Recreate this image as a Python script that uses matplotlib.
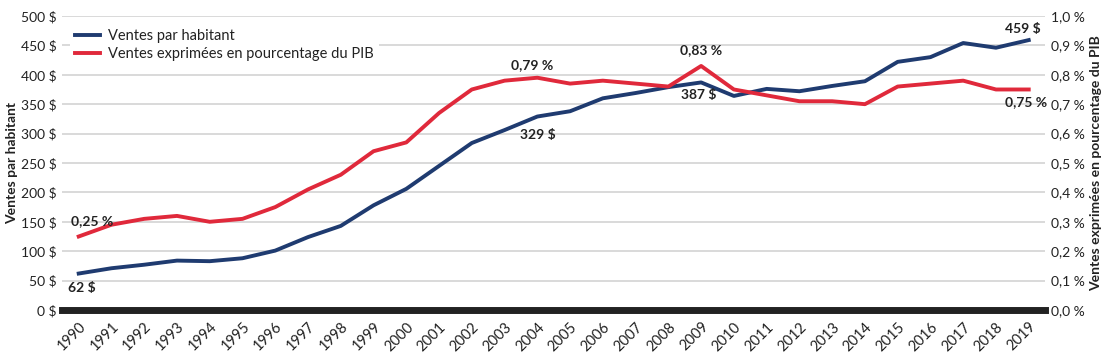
import numpy as np
import matplotlib.pyplot as plt

plt.rcParams['font.family'] = ['Lato', 'DejaVu Sans']

years = list(range(1990, 2020))
par_habitant = [62, 71, 77, 84, 83, 88, 101, 124, 143, 178,
                206, 245, 284, 306, 329, 338, 360, 369, 379, 387,
                364, 376, 372, 381, 389, 422, 430, 454, 446, 459]
pct_pib = [0.25, 0.29, 0.31, 0.32, 0.30, 0.31, 0.35, 0.41, 0.46, 0.54,
           0.57, 0.67, 0.75, 0.78, 0.79, 0.77, 0.78, 0.77, 0.76, 0.83,
           0.75, 0.73, 0.71, 0.71, 0.70, 0.76, 0.77, 0.78, 0.75, 0.75]

blue = '#1f3b70'
red = '#e0293b'
txt = '#222222'

fig = plt.figure(figsize=(11.13, 3.59), dpi=100)
ax = fig.add_axes([0.056, 0.1365, 0.883, 0.819])
ax2 = ax.twinx()

ax.set_xlim(1989.5, 2019.5)
ax.set_ylim(0, 500)
ax2.set_ylim(0, 1.0)

for v in range(50, 501, 50):
    ax.axhline(v, color='#d3d3d3', lw=1.2, zorder=0)
ax.axhline(0, color='#222222', lw=5, zorder=3, clip_on=False)

l1, = ax2.plot(years, [v / 500 for v in par_habitant], color=blue, lw=2.8,
               label='Ventes par habitant', zorder=4)
l2, = ax2.plot(years, pct_pib, color=red, lw=2.8,
               label='Ventes exprimées en pourcentage du PIB', zorder=4)

yt = list(range(0, 501, 50))
ax.set_yticks(yt)
ax.set_yticklabels([f'{v} $' for v in yt], fontsize=10, color=txt)
pt = [i / 10 for i in range(11)]
ax2.set_yticks(pt)
ax2.set_yticklabels([f'{v:.1f} %'.replace('.', ',') for v in pt], fontsize=10, color=txt)

ax.set_xticks(years)
ax.set_xticklabels([str(y) for y in years], rotation=45, ha='right',
                   rotation_mode='anchor', fontsize=10.5, color=txt)

for a in (ax, ax2):
    a.tick_params(length=0)
    for s in a.spines.values():
        s.set_visible(False)
ax.tick_params(axis='y', pad=4)
ax.tick_params(axis='x', pad=7)
ax2.tick_params(axis='y', pad=4)

ax.set_ylabel('Ventes par habitant', fontsize=10, fontweight='bold', color=txt, labelpad=2)
ax2.set_ylabel('Ventes exprimées en pourcentage du PIB', fontsize=10,
               fontweight='bold', color=txt, rotation=90, labelpad=4)

lab = dict(fontsize=10, fontweight='bold', color=txt, zorder=6)
i90, i04, i09, i19 = 0, years.index(2004), years.index(2009), years.index(2019)
ax2.annotate('0,25 %', (years[i90], pct_pib[i90]), xytext=(10, 7),
             textcoords='offset points', ha='center', va='bottom', **lab)
ax2.annotate('62 $', (years[i90], par_habitant[i90] / 500), xytext=(2, -6),
             textcoords='offset points', ha='center', va='top', **lab)
ax2.annotate('0,79 %', (years[i04], pct_pib[i04]), xytext=(-4, 5),
             textcoords='offset points', ha='center', va='bottom', **lab)
ax2.annotate('329 $', (years[i04], par_habitant[i04] / 500), xytext=(0, -9),
             textcoords='offset points', ha='center', va='top', **lab)
ax2.annotate('0,83 %', (years[i09], pct_pib[i09]), xytext=(0, 7),
             textcoords='offset points', ha='center', va='bottom', **lab)
ax2.annotate('387 $', (years[i09], par_habitant[i09] / 500), xytext=(-2, -5),
             textcoords='offset points', ha='center', va='top', **lab)
ax2.annotate('459 $', (years[i19], par_habitant[i19] / 500), xytext=(-4, 4),
             textcoords='offset points', ha='center', va='bottom', **lab)
ax2.annotate('0,75 %', (years[i19], pct_pib[i19]), xytext=(-2, -5),
             textcoords='offset points', ha='center', va='top', **lab)

leg = ax2.legend(handles=[l1, l2], loc='upper left', bbox_to_anchor=(0.0, 1.0),
                 frameon=True, framealpha=1, edgecolor='white', fontsize=10.5,
                 handlelength=1.7, handletextpad=0.5, labelspacing=0.3,
                 borderpad=0.4)
leg.get_frame().set_linewidth(0)
for t in leg.get_texts():
    t.set_color(txt)

fig.savefig('out.png', dpi=100, facecolor='white')
